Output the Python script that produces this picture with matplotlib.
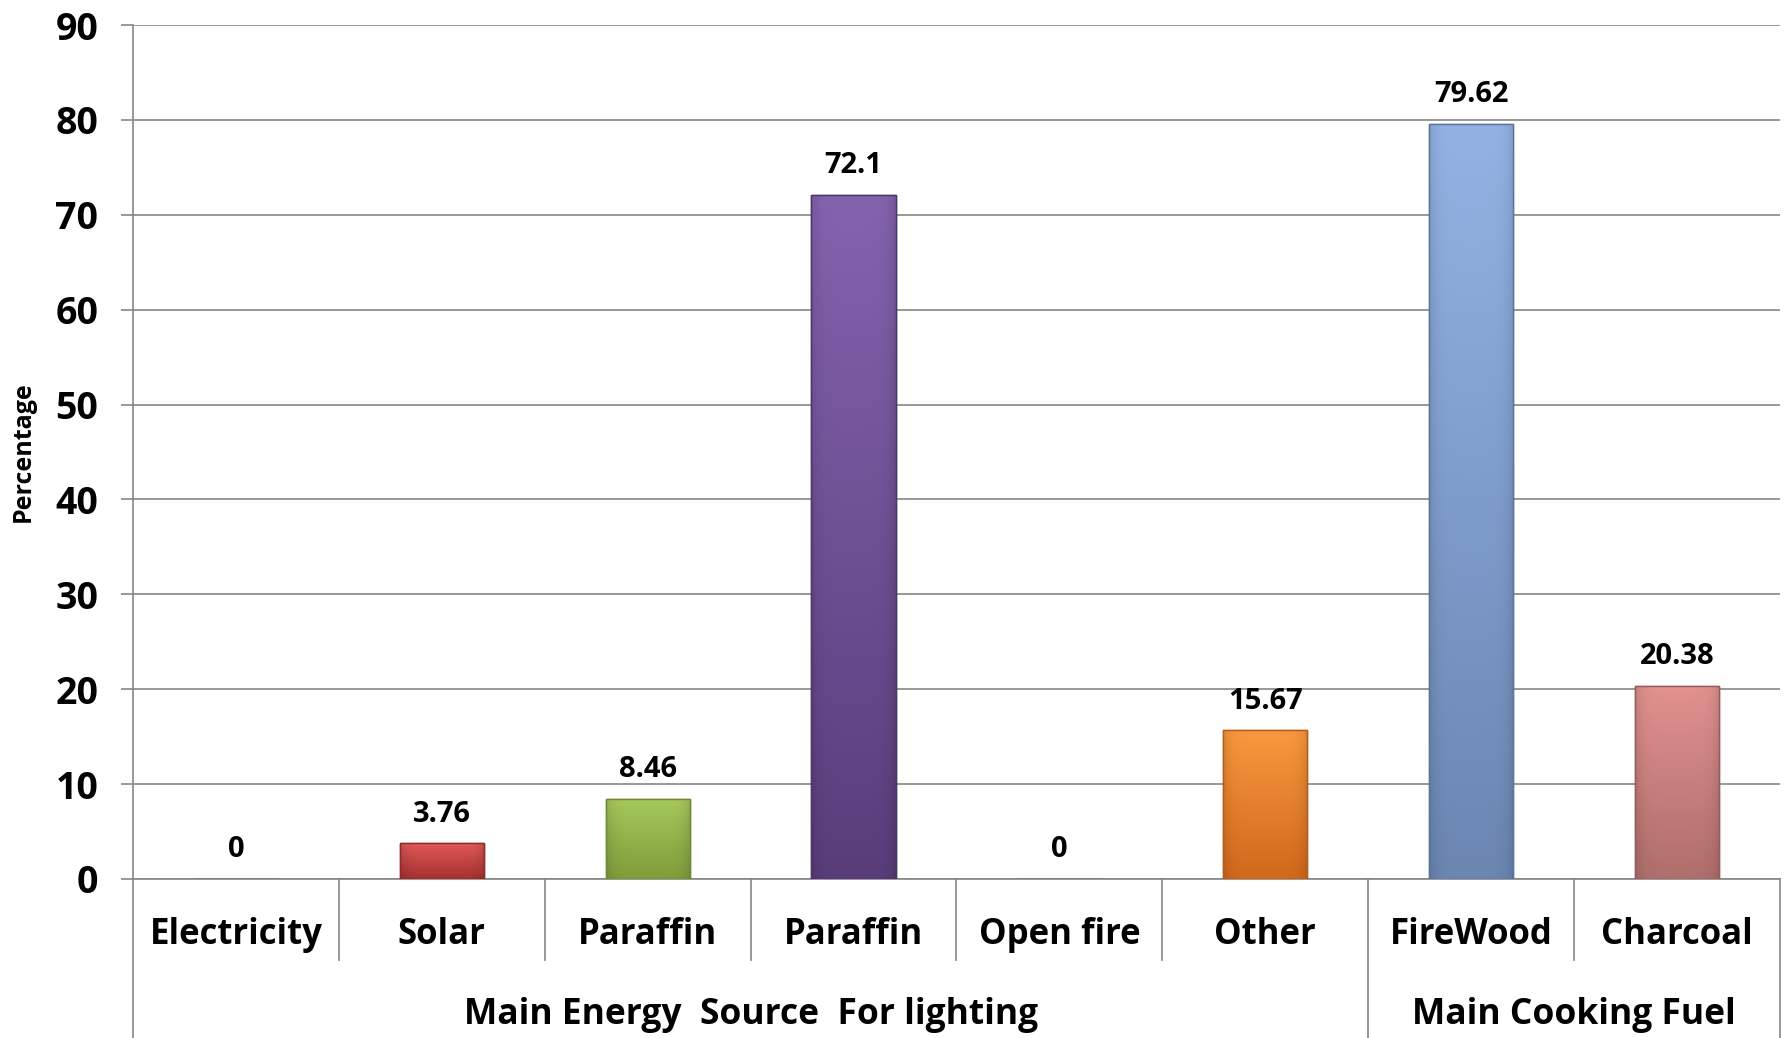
import numpy as np
import matplotlib
matplotlib.use("Agg")
import matplotlib.pyplot as plt
from matplotlib.colors import to_rgb

categories = ["Electricity", "Solar", "Paraffin", "Paraffin", "Open fire",
              "Other", "FireWood", "Charcoal"]
values = [0, 3.76, 8.46, 72.1, 0, 15.67, 79.62, 20.38]
value_labels = ["0", "3.76", "8.46", "72.1", "0", "15.67", "79.62", "20.38"]
groups = ["Main Energy  Source  For lighting", "Main Cooking Fuel"]
group_sizes = [6, 2]
yticks = [0, 10, 20, 30, 40, 50, 60, 70, 80, 90]

# top / bottom colours of each bar's gradient
top_colors = ["#4F81BD", "#E05A58", "#A6C95C", "#8463AE", "#4F81BD",
              "#F9983E", "#93B3E4", "#E2928F"]
bot_colors = ["#3B6497", "#A5302F", "#7F9C3A", "#583D7A", "#3B6497",
              "#D0691C", "#6A86B1", "#AE6E6C"]
edge_colors = ["#385D8A", "#8C2B2A", "#6E8833", "#4B3468", "#385D8A",
               "#B65C18", "#5A7398", "#955B5A"]

plt.rcParams["font.family"] = ["Open Sans", "DejaVu Sans"]
plt.rcParams["font.weight"] = "bold"

fig = plt.figure(figsize=(17.86, 10.38), dpi=100)
ax = fig.add_axes([0.0745, 0.1532, 0.9221, 0.8227])

x = np.arange(len(categories))
bars = ax.bar(x, values, width=0.41, color=top_colors, zorder=3,
              linewidth=1.0, edgecolor=edge_colors)

for i, b in enumerate(bars):
    h = values[i]
    if h <= 0:
        continue
    t = np.array(to_rgb(top_colors[i]))
    bt = np.array(to_rgb(bot_colors[i]))
    f = np.linspace(0, 1, 200)[:, None]
    grad = (t * (1 - f) + bt * f)[:, None, :]
    # slight horizontal shading toward the edges
    hx = np.linspace(-1, 1, 60)
    shade = 1 - 0.12 * np.abs(hx) ** 6
    img = grad * shade[None, :, None]
    x0 = b.get_x()
    im = ax.imshow(np.clip(img, 0, 1), extent=(x0, x0 + b.get_width(), 0, h),
                   aspect="auto", origin="upper", zorder=3.5)
    im.set_clip_path(b)
    ax.bar(x[i], h, width=0.41, facecolor="none", edgecolor=edge_colors[i],
           linewidth=1.0, zorder=4)

for i, v in enumerate(values):
    ax.annotate(value_labels[i], (x[i], v), xytext=(0, 21),
                textcoords="offset points", ha="center", va="center",
                fontsize=21, fontweight="bold")

ax.set_xlim(-0.5, len(categories) - 0.5)
ax.set_ylim(0, 90)
ax.set_yticks(yticks)
ax.set_yticklabels([str(t) for t in yticks], fontsize=27, fontweight="bold")
ax.tick_params(axis="y", length=9, width=1.2, color="#868686", pad=16)
ax.set_xticks([])
ax.yaxis.grid(True, color="#868686", linewidth=1.2, zorder=0)
ax.set_axisbelow(True)
for s in ["top", "right"]:
    ax.spines[s].set_visible(False)
ax.spines["left"].set_color("#868686")
ax.spines["left"].set_linewidth(1.2)
ax.spines["bottom"].set_color("#868686")
ax.spines["bottom"].set_linewidth(1.2)

ax.set_ylabel("Percentage", fontsize=18, fontweight="bold")
ax.yaxis.set_label_coords(-0.059, 0.5)

trans = ax.get_xaxis_transform()
# category labels and separators
for i, c in enumerate(categories):
    ax.text(x[i], -0.066, c, transform=trans, ha="center", va="center",
            fontsize=25, fontweight="bold")
starts = np.cumsum([0] + group_sizes)
for k in range(1, len(categories)):
    if k in starts:
        continue
    ax.plot([k - 0.5, k - 0.5], [0, -0.095], transform=trans, color="#868686",
            linewidth=1.2, clip_on=False)
for k in starts:
    ax.plot([k - 0.5, k - 0.5], [0, -0.19], transform=trans, color="#868686",
            linewidth=1.2, clip_on=False)
for g, name in enumerate(groups):
    mid = (starts[g] + starts[g + 1] - 1) / 2
    ax.text(mid, -0.159, name, transform=trans, ha="center", va="center",
            fontsize=25.5, fontweight="bold")

fig.savefig("out.png", dpi=100)
